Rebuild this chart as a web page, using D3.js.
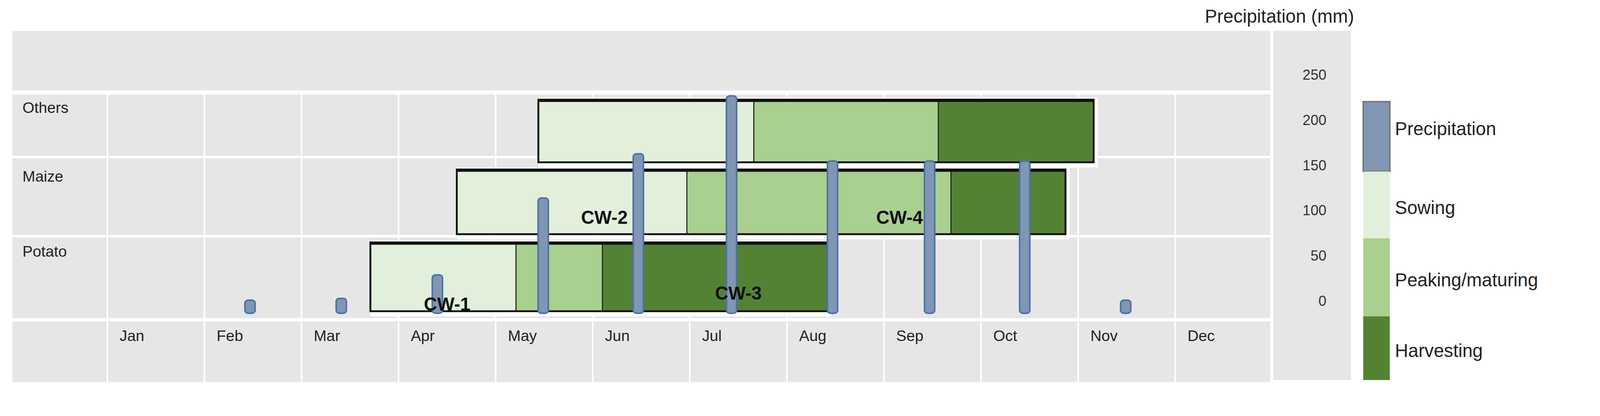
<!DOCTYPE html>
<html><head><meta charset="utf-8">
<script src="https://cdn.jsdelivr.net/npm/d3@7"></script>
<style>body{margin:0;background:#fff}svg{display:block}</style></head>
<body><svg id="c" width="4382" height="1065" viewBox="0 0 1675 405" preserveAspectRatio="none"></svg>
<script>
const months=["Jan","Feb","Mar","Apr","May","Jun","Jul","Aug","Sep","Oct","Nov","Dec"];
const crops=["Others","Maize","Potato"];
const stages=["Sowing","Peaking/maturing","Harvesting"];
const othersPhases=[4.44,6.66,8.56,10.16];
const maizePhases=[3.6,5.97,8.69,9.87];
const potatoPhases=[2.71,4.21,5.1,7.42];
const precipMonthPos=[1.47,2.41,3.4,4.49,5.47,6.43,7.47,8.47,9.45,10.49];
const precipValues=[2,4,30,115,164,228,156,156,156,2];
const precipTicks=[0,50,100,150,200,250];
const cwLabels=["CW-1","CW-2","CW-3","CW-4"];
const cwPos=[[3.26,-4],[4.88,92],[6.26,8],[7.92,92]];

const svg=d3.select("#c");
const F="'Liberation Sans', Arial, sans-serif";
const x=d3.scaleLinear().domain([0,12]).range([105,1245]);
const y=d3.scaleLinear().domain([0,250]).range([294,74]);
const rowY={Others:[97,158],Maize:[165,228],Potato:[236,303]};
const colors=["#e2efda","#a9d08e","#548235"];
const phases={Others:othersPhases,Maize:maizePhases,Potato:potatoPhases};

svg.append("rect").attr("x",12).attr("y",30).attr("width",1231).attr("height",58).attr("fill","#e6e6e6");
svg.append("rect").attr("x",12).attr("y",92).attr("width",1231).attr("height",218).attr("fill","#e6e6e6");
svg.append("rect").attr("x",12).attr("y",313).attr("width",1231).attr("height",59).attr("fill","#e6e6e6");
svg.append("rect").attr("x",1246).attr("y",30).attr("width",76).attr("height",340).attr("fill","#e6e6e6");
for(let i=0;i<=12;i++){
  svg.append("line").attr("x1",x(i)).attr("x2",x(i)).attr("y1",92).attr("y2",372).attr("stroke","#fff").attr("stroke-width",1.5);
}
[153,230].forEach(v=>svg.append("line").attr("x1",12).attr("x2",1243).attr("y1",v).attr("y2",v).attr("stroke","#fff").attr("stroke-width",2.5));
svg.append("line").attr("x1",12).attr("x2",1243).attr("y1",311).attr("y2",311).attr("stroke","#fff").attr("stroke-width",2.5);

svg.selectAll(".m").data(months).join("text").attr("x",(d,i)=>x(i)+12).attr("y",332)
 .attr("font-family",F).attr("font-size",15).attr("fill","#222").text(d=>d);
const rl={Others:110,Maize:177,Potato:250};
crops.forEach(c=>svg.append("text").attr("x",22).attr("y",rl[c]).attr("font-family",F).attr("font-size",15).attr("fill","#222").text(c));

["Potato","Maize","Others"].forEach(c=>{
  const p=phases[c],[y0,y1]=rowY[c];
  svg.append("rect").attr("x",x(p[0])).attr("y",y0-2).attr("width",x(p[3])-x(p[0])+4).attr("height",y1-y0+7).attr("fill","#fff");
  for(let k=0;k<3;k++){
    svg.append("rect").attr("x",x(p[k])).attr("y",y0).attr("width",x(p[k+1])-x(p[k])).attr("height",y1-y0)
      .attr("fill",colors[k]).attr("stroke","#222").attr("stroke-width",1);
  }
  svg.append("rect").attr("x",x(p[0])).attr("y",y0).attr("width",x(p[3])-x(p[0])).attr("height",y1-y0)
    .attr("fill","none").attr("stroke","#111").attr("stroke-width",1.8);
  svg.append("line").attr("x1",x(p[0])).attr("x2",x(p[3])).attr("y1",y0+1).attr("y2",y0+1).attr("stroke","#111").attr("stroke-width",2.5);
});

const base=305;
svg.selectAll(".p").data(precipValues).join("rect")
 .attr("x",(d,i)=>x(precipMonthPos[i])-5).attr("width",10)
 .attr("y",d=>Math.min(y(d),298)).attr("height",d=>base-Math.min(y(d),298))
 .attr("rx",3).attr("fill","#8096b3").attr("stroke","#4a72a8").attr("stroke-width",1.5);

cwLabels.forEach((t,i)=>svg.append("text").attr("x",x(cwPos[i][0])).attr("y",y(cwPos[i][1])).attr("font-family",F)
 .attr("font-size",18).attr("font-weight","bold").attr("fill","#111").attr("dominant-baseline","middle").text(t));

svg.selectAll(".t").data(precipTicks).join("text").attr("x",1298).attr("y",d=>y(d)).attr("text-anchor","end")
 .attr("dominant-baseline","middle").attr("font-family",F).attr("font-size",14).attr("fill","#333").text(d=>d);
svg.append("text").attr("x",1325).attr("y",22).attr("text-anchor","end").attr("font-family",F).attr("font-size",18).attr("fill","#222").text("Precipitation (mm)");

const leg=[["Precipitation","#8096b3",99,167],["Sowing",colors[0],167,232],["Peaking/maturing",colors[1],232,308],["Harvesting",colors[2],308,370]];
leg.forEach(([t,c,a,b])=>{
  svg.append("rect").attr("x",1334).attr("y",a).attr("width",26).attr("height",b-a).attr("fill",c).attr("stroke",t==="Precipitation"?"#777":"none").attr("stroke-width",1.5);
  svg.append("text").attr("x",1365).attr("y",(a+b)/2+(t==="Precipitation"?-6:4)).attr("dominant-baseline","middle").attr("font-family",F).attr("font-size",18).attr("fill","#222").text(t);
});
</script></body></html>
